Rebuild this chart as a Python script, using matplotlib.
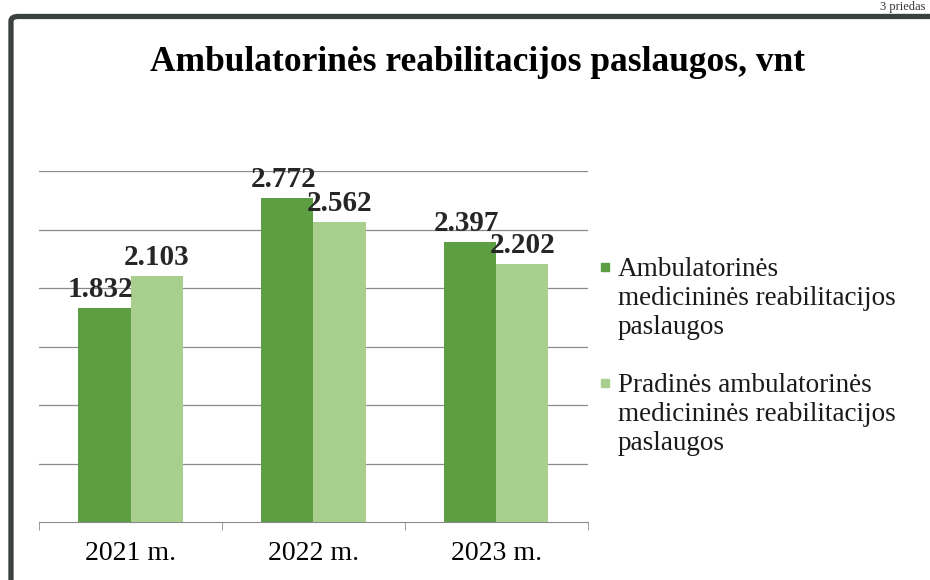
import numpy as np
import matplotlib
matplotlib.use("Agg")
import matplotlib.pyplot as plt
from matplotlib.patches import FancyBboxPatch, Rectangle

plt.rcParams["font.family"] = ["Liberation Serif", "DejaVu Serif"]

metai = ["2021 m.", "2022 m.", "2023 m."]
ambulatorines = [1832, 2772, 2397]
pradines = [2103, 2562, 2202]
etiketes_amb = ["1.832", "2.772", "2.397"]
etiketes_prad = ["2.103", "2.562", "2.202"]
serijos = [
    "Ambulatorinės\nmedicininės reabilitacijos\npaslaugos",
    "Pradinės ambulatorinės\nmedicininės reabilitacijos\npaslaugos",
]

tamsi = "#5e9e43"
sviesi = "#a9cf8f"

fig = plt.figure(figsize=(9.3, 5.8), dpi=100)

# remelis aplink diagrama
remelis = FancyBboxPatch(
    (0.0118, -0.05), 1.05, 0.9716 + 0.05,
    boxstyle="round,pad=0,rounding_size=0.008",
    transform=fig.transFigure, fill=False,
    edgecolor="#3b4040", linewidth=3.8, zorder=0,
)
fig.patches.append(remelis)

fig.text(0.514, 0.892, "Ambulatorinės reabilitacijos paslaugos, vnt",
         ha="center", va="center", fontsize=25.5, fontweight="bold")
fig.text(0.995, 0.999, "3 priedas", ha="right", va="top",
         fontsize=9, color="#333333")

ax = fig.add_axes([0.042, 0.1, 0.59, 0.605])

x = np.arange(len(metai))
plotis = 0.285

b1 = ax.bar(x - plotis / 2, ambulatorines, plotis, color=tamsi, zorder=3)
b2 = ax.bar(x + plotis / 2, pradines, plotis, color=sviesi, zorder=3)

for stulp, txt in zip(b1, etiketes_amb):
    ax.annotate(txt, (stulp.get_x() + stulp.get_width() / 2, stulp.get_height()),
                xytext=(-3, 8), textcoords="offset points",
                ha="center", va="baseline", fontsize=21, fontweight="bold",
                color="#262626", zorder=4)
for stulp, txt in zip(b2, etiketes_prad):
    ax.annotate(txt, (stulp.get_x() + stulp.get_width() / 2, stulp.get_height()),
                xytext=(0, 8), textcoords="offset points",
                ha="center", va="baseline", fontsize=21, fontweight="bold",
                color="#262626", zorder=4)

ax.set_xlim(-0.5, 2.5)
ax.set_ylim(0, 3000)
ax.set_yticks(np.arange(500, 3001, 500))
ax.yaxis.grid(True, color="#8a8a8a", linewidth=0.9, zorder=0)
ax.tick_params(axis="y", length=0, labelleft=False)

ax.set_xticks(x)
ax.set_xticklabels(metai, fontsize=20)
ax.set_xticks([-0.5, 0.5, 1.5, 2.5], minor=True)
ax.tick_params(axis="x", which="major", length=0, pad=14)
ax.tick_params(axis="x", which="minor", length=6, color="#8a8a8a", direction="out")

for s in ["top", "right", "left"]:
    ax.spines[s].set_visible(False)
ax.spines["bottom"].set_color("#8a8a8a")

# legenda: kvadratelis prie pirmos eilutes
legendos_y = [1 - 257 / 580, 1 - 373 / 580]
for spalva, tekstas, ly in zip([tamsi, sviesi], serijos, legendos_y):
    fig.patches.append(Rectangle((601 / 930, ly - 14 / 580), 8 / 930, 8 / 580,
                                 transform=fig.transFigure, color=spalva))
    fig.text(618 / 930, ly, tekstas, ha="left", va="top", fontsize=19.5,
             linespacing=1.2, color="#1a1a1a")

fig.savefig("out.png", dpi=100)
